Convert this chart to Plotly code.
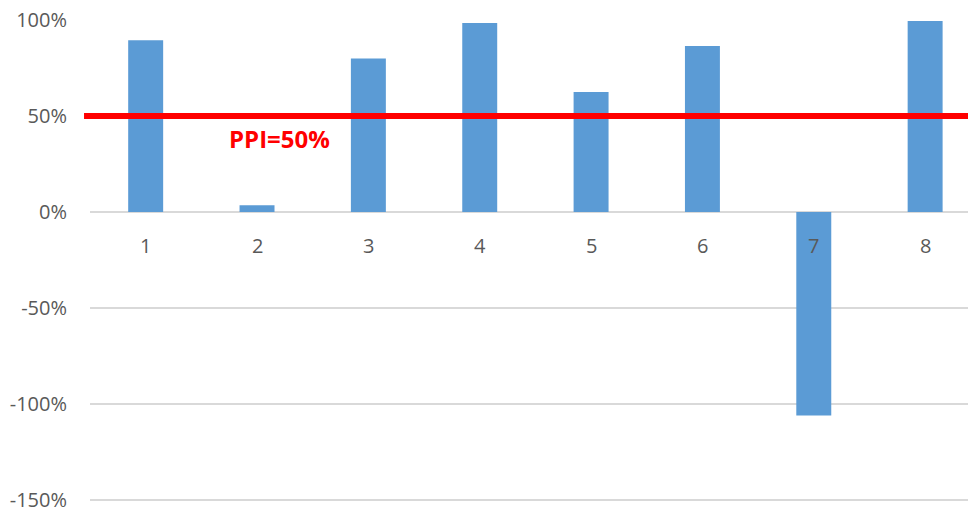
import plotly.graph_objects as go

# Category labels and the percentage value for each bar
categories = [1, 2, 3, 4, 5, 6, 7, 8]
values = [89.5, 3.5, 80, 98.5, 62.5, 86.5, -106, 99.5]

# Threshold line and its label
ppi_threshold = 50
ppi_label = "PPI=50%"

# Y axis ticks
y_ticks = [-150, -100, -50, 0, 50, 100]
y_tick_text = ["-150%", "-100%", "-50%", "0%", "50%", "100%"]

bar_color = "#5B9BD5"
grid_color = "#D9D9D9"
text_color = "#595959"
font_family = "Open Sans, Lato, sans-serif"

fig = go.Figure()
fig.add_trace(go.Bar(
    x=categories,
    y=values,
    width=0.314,
    marker=dict(color=bar_color, line=dict(width=0)),
    hoverinfo="skip",
))

# Category labels sit just under the zero line
annotations = [
    dict(x=c, y=0, xref="x", yref="y", text=str(c), showarrow=False,
         yanchor="top", yshift=-18,
         font=dict(family=font_family, size=20, color=text_color))
    for c in categories
]
annotations.append(dict(
    x=2.2, y=38.5, xref="x", yref="y", text=ppi_label, showarrow=False,
    xanchor="center", yanchor="middle",
    font=dict(family=font_family, size=24, color="#FF0000", weight="bold"),
))

fig.update_layout(
    width=968,
    height=508,
    margin=dict(l=90, r=0, t=19, b=4, autoexpand=False),
    paper_bgcolor="white",
    plot_bgcolor="white",
    showlegend=False,
    xaxis=dict(
        range=[0.5, 8.385],
        showticklabels=False,
        showgrid=False,
        zeroline=False,
        showline=False,
        ticks="",
        automargin=False,
    ),
    yaxis=dict(
        range=[-152.1, 100.52],
        tickvals=y_ticks,
        ticktext=y_tick_text,
        showgrid=True,
        gridcolor=grid_color,
        gridwidth=1.5,
        zeroline=True,
        zerolinecolor=grid_color,
        zerolinewidth=1.5,
        showline=False,
        ticks="",
        ticklabelstandoff=22,
        ticklabeloverflow="allow",
        automargin=False,
        tickfont=dict(family=font_family, size=20, color=text_color),
    ),
    annotations=annotations,
    shapes=[dict(
        type="line", xref="paper", yref="y",
        x0=-0.0068, x1=1.0, y0=ppi_threshold, y1=ppi_threshold,
        line=dict(color="#FF0000", width=6),
        layer="above",
    )],
)

fig.write_html("out.html")
